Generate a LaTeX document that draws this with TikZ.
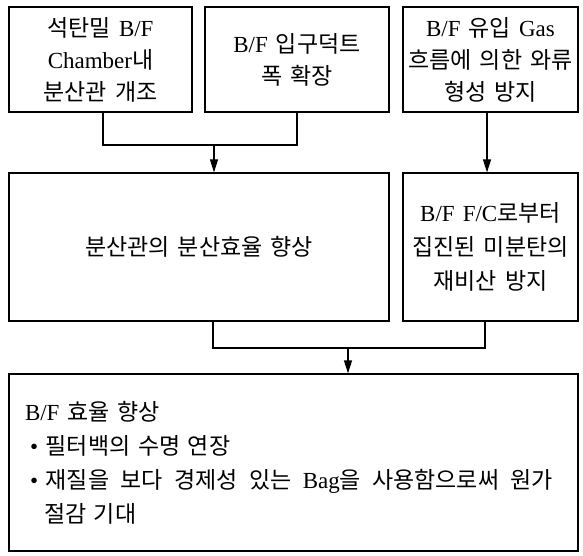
\documentclass[tikz,border=0pt]{standalone}
\usepackage{fontspec}
\setmainfont{Liberation Serif}[WordSpace=1.4]
\newfontfamily\krfont{Noto Sans CJK KR}[WordSpace=1.4]
\newfontfamily\latfont{Liberation Serif}[WordSpace=1.4]
\usetikzlibrary{arrows.meta}
\XeTeXinterchartokenstate=1
\newXeTeXintercharclass\hangulclass
\count255="AC00
\loop
\XeTeXcharclass\count255=\hangulclass
\ifnum\count255<"D7A3 \advance\count255 by 1 \repeat
\XeTeXinterchartoks 0 \hangulclass = {\krfont}
\XeTeXinterchartoks 4095 \hangulclass = {\krfont}
\XeTeXinterchartoks \hangulclass 0 = {\latfont}
\XeTeXinterchartoks \hangulclass 4095 = {\latfont}
\begin{document}
\begin{tikzpicture}[x=1pt,y=-1pt,
  box/.style={draw, line width=1.2pt, rectangle, inner sep=0pt, align=center,
    font=\fontsize{23}{32}\selectfont},
  link/.style={line width=1.2pt},
  arr/.style={line width=1.2pt, -{Triangle[length=13pt,width=8pt]}}]
\useasboundingbox (0,0) rectangle (583,556);
\node[box, minimum width=183pt, minimum height=105pt] (b1) at (100.5,59.5)
  {석탄밀 B/F\\Chamber내\\분산관 개조};
\node[box, minimum width=184pt, minimum height=105pt] (b2) at (297,59.5)
  {B/F 입구덕트\\폭 확장};
\node[box, minimum width=175pt, minimum height=105pt] (b3) at (490.5,59.5)
  {B/F 유입 Gas\\흐름에 의한 와류\\형성 방지};
\node[box, minimum width=380pt, minimum height=148pt] (b4) at (199,247)
  {분산관의 분산효율 향상};
\node[box, minimum width=175pt, minimum height=148pt, font=\fontsize{23}{34}\selectfont] (b5) at (490.5,247)
  {B/F F/C로부터\\집진된 미분탄의\\재비산 방지};
\node[box, minimum width=569pt, minimum height=177pt, align=left,
  text width=537pt, font=\fontsize{23}{34}\selectfont] (b6) at (293.5,462.5)
  {B/F 효율 향상\\
   \hspace*{5pt}•~필터백의 수명 연장\\
   \hspace*{5pt}\hbox to 523pt{•~재질을\hfill 보다\hfill 경제성\hfill 있는\hfill Bag을\hfill 사용함으로써\hfill 원가}\\
   \hspace*{19pt}절감 기대};
\coordinate (c1) at (103,145);
\coordinate (c2) at (297,145);
\coordinate (j1) at (214,145);
\coordinate (a3) at (487,0);
\coordinate (c3) at (213,348);
\coordinate (c4) at (485,348);
\coordinate (j2) at (348,348);
\draw[link] (b1.south -| c1) -- (c1) -- (c2) -- (b2.south);
\draw[arr] (j1) -- (j1 |- b4.north);
\draw[arr] (b3.south -| a3) -- (b5.north -| a3);
\draw[link] (b4.south -| c3) -- (c3) -- (c4) -- (b5.south -| c4);
\draw[arr] (j2) -- (j2 |- b6.north);
\end{tikzpicture}
\end{document}
